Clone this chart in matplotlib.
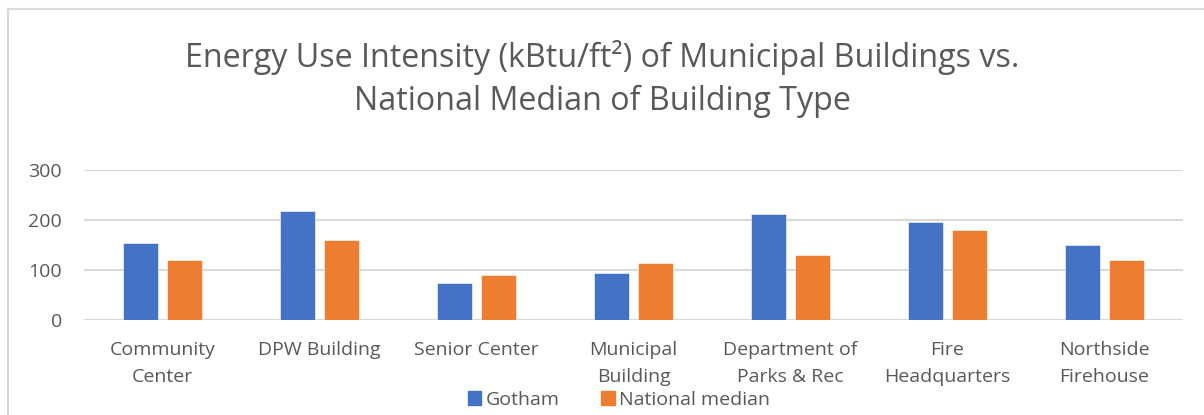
import matplotlib
matplotlib.use("Agg")
import matplotlib.pyplot as plt
import numpy as np
from matplotlib.lines import Line2D
from matplotlib.patches import Patch

plt.rcParams['font.family'] = ['Open Sans', 'DejaVu Sans']

categories = ["Community\nCenter", "DPW Building", "Senior Center", "Municipal\nBuilding",
              "Department of\nParks & Rec", "Fire\nHeadquarters", "Northside\nFirehouse"]
gotham = [155, 218, 75, 94, 212, 196, 150]
national = [120, 160, 90, 114, 130, 180, 120]

BLUE = "#4472C4"
ORANGE = "#ED7D31"
TXT = "#595959"
GRID = "#D9D9D9"

W, H = 1204, 415
fig = plt.figure(figsize=(W / 100, H / 100), dpi=100)
ax = fig.add_axes([84 / W, 1 - 320 / H, (1183 - 84) / W, 150 / H])

x = np.arange(len(categories))
bw = 0.223
off = 0.143
ax.bar(x - off, gotham, bw, color=BLUE, edgecolor="white", linewidth=0.4, zorder=3)
ax.bar(x + off, national, bw, color=ORANGE, edgecolor="white", linewidth=0.4, zorder=3)

ax.set_xlim(-0.5, len(categories) - 0.5)
ax.set_ylim(0, 300)
ax.set_yticks([0, 100, 200, 300])
ax.yaxis.grid(True, color=GRID, linewidth=1.5, zorder=0)
ax.set_axisbelow(True)
for s in ax.spines.values():
    s.set_visible(False)
ax.tick_params(length=0, colors=TXT, labelsize=14)
ax.tick_params(axis="y", pad=16)
ax.tick_params(axis="x", pad=15)
ax.set_xticks(x)
ax.set_xticklabels(categories, linespacing=1.65)

fig.text(0.5, 1 - 79 / H, "Energy Use Intensity (kBtu/ft²) of Municipal Buildings vs.\nNational Median of Building Type",
         ha="center", va="center", color=TXT, fontsize=23.2, linespacing=1.38)

handles = [Patch(color=BLUE, label="Gotham"), Patch(color=ORANGE, label="National median")]
fig.legend(handles=handles, loc="center", bbox_to_anchor=(619 / W, 1 - 400 / H), ncol=2,
           frameon=False, fontsize=14, labelcolor=TXT, handlelength=0.7, handleheight=0.7,
           handletextpad=0.25, columnspacing=2.1, borderpad=0)

# chart border (left and top edges visible)
bx, by = 7.5 / W, 1 - 9.5 / H
fig.add_artist(Line2D([bx, bx], [0, by], transform=fig.transFigure, color=GRID, linewidth=1.5))
fig.add_artist(Line2D([bx, 1], [by, by], transform=fig.transFigure, color=GRID, linewidth=1.5))

fig.savefig("out.png", dpi=100, facecolor="white")
